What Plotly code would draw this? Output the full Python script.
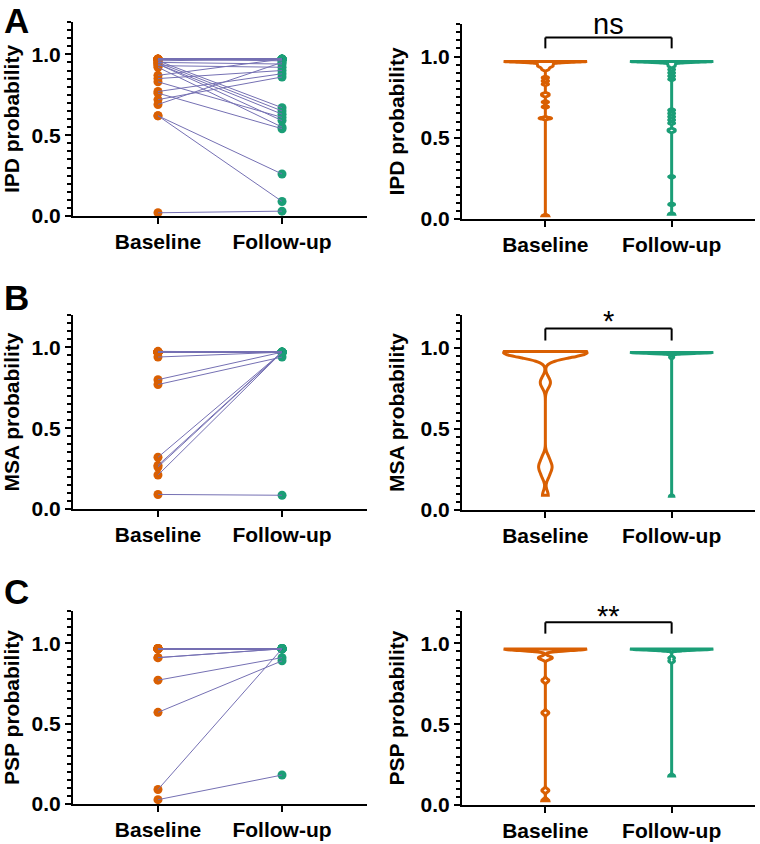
import plotly.graph_objects as go

# ---------------- data ----------------
categories = ["Baseline", "Follow-up"]

ipd_baseline = [0.97] * 12 + [0.97, 0.96, 0.96, 0.95, 0.95, 0.94, 0.94, 0.93, 0.92,
                              0.87, 0.85, 0.83, 0.77, 0.76, 0.72, 0.69, 0.62, 0.62, 0.02]
ipd_followup = [0.97] * 12 + [0.96, 0.97, 0.67, 0.65, 0.94, 0.63, 0.59, 0.92, 0.55,
                              0.97, 0.90, 0.61, 0.88, 0.54, 0.86, 0.95, 0.26, 0.09, 0.03]

msa_baseline = [0.97] * 13 + [0.975, 0.94, 0.80, 0.77, 0.32, 0.27, 0.26, 0.21, 0.09]
msa_followup = [0.97] * 13 + [0.97, 0.97, 0.97, 0.94, 0.97, 0.97, 0.97, 0.97, 0.085]

psp_baseline = [0.965] * 12 + [0.91, 0.91, 0.77, 0.57, 0.09, 0.027]
psp_followup = [0.965] * 12 + [0.965, 0.965, 0.91, 0.89, 0.965, 0.18]

panel_letters = ["A", "B", "C"]
y_titles = ["IPD probability", "MSA probability", "PSP probability"]
significance = ["ns", "*", "**"]
y_tickvals = [0.0, 0.5, 1.0]
y_ticktext = ["0.0", "0.5", "1.0"]

# ---------------- style ----------------
ORANGE = "#D95F02"
GREEN = "#1B9E77"
PURPLE = "#7570B3"
FONT = "Liberation Sans, Arial, Helvetica, sans-serif"
W, H = 760, 844
FS = 21

def ydom(y0px, ytop):
    return [(H - y0px) / H, (H - ytop) / H]

left_x = [73 / W, 367 / W]
right_x = [462 / W, 755 / W]
left_y = [ydom(216, 22), ydom(509, 315), ydom(804, 611)]
right_y = [ydom(219, 24), ydom(510, 315), ydom(805, 611)]
left_range = [-0.685, 1.685]
right_range = [-0.66, 1.66]
bandwidths = [(0.005, 0.005), (0.03, 0.006), (0.01, 0.007)]
letter_top_px = [-1, 276, 570]
sig_y = [(1.05, 1.117, 1.09), (1.043, 1.117, 1.05), (1.06, 1.13, 1.06)]

datasets = [(ipd_baseline, ipd_followup),
            (msa_baseline, msa_followup),
            (psp_baseline, psp_followup)]

fig = go.Figure()
layout = dict(width=W, height=H,
              margin=dict(l=0, r=0, t=0, b=0, pad=0, autoexpand=False),
              paper_bgcolor="white", plot_bgcolor="white",
              showlegend=False, font=dict(family=FONT, size=FS, color="black"))
shapes = []
annotations = []

def yaxis_def(title, dom, anchor):
    return dict(domain=dom, anchor=anchor, range=[0, 1.2], automargin=False,
                tickmode="array", tickvals=y_tickvals, ticktext=y_ticktext,
                ticks="outside", ticklen=6, tickwidth=2, tickcolor="black",
                showline=True, linewidth=2, linecolor="black",
                showgrid=False, zeroline=False,
                tickfont=dict(family=FONT, size=FS, weight="bold", color="black"),
                minor=dict(tickmode="linear", tick0=0, dtick=0.05, ticks="outside",
                           ticklen=4, tickwidth=1.5, tickcolor="black", showgrid=False),
                title=dict(text=title, standoff=10,
                           font=dict(family=FONT, size=FS, weight="bold", color="black")))

def xaxis_def(dom, anchor, rng):
    return dict(domain=dom, anchor=anchor, type="category", automargin=False,
                categoryorder="array", categoryarray=categories, range=rng,
                ticks="outside", ticklen=6, tickwidth=2, tickcolor="black",
                showline=True, linewidth=2, linecolor="black",
                showgrid=False, zeroline=False,
                tickfont=dict(family=FONT, size=FS, weight="bold", color="black"))

for i, (base, follow) in enumerate(datasets):
    li = 2 * i + 1
    ri = 2 * i + 2
    lx, ly = f"x{li}", f"y{li}"
    rx, ry = f"x{ri}", f"y{ri}"
    n = len(base)

    # paired lines
    xs, ys = [], []
    for b, f in zip(base, follow):
        xs += [categories[0], categories[1], None]
        ys += [b, f, None]
    fig.add_trace(go.Scatter(x=[categories[0]] * n, y=base, mode="markers",
                             marker=dict(color=ORANGE, size=9),
                             xaxis=lx, yaxis=ly, cliponaxis=False))
    fig.add_trace(go.Scatter(x=[categories[1]] * n, y=follow, mode="markers",
                             marker=dict(color=GREEN, size=9),
                             xaxis=lx, yaxis=ly, cliponaxis=False))
    fig.add_trace(go.Scatter(x=xs, y=ys, mode="lines",
                             line=dict(color=PURPLE, width=1),
                             xaxis=lx, yaxis=ly, connectgaps=False))

    # violins
    for vals, cat, col, bw in [(base, categories[0], ORANGE, bandwidths[i][0]),
                               (follow, categories[1], GREEN, bandwidths[i][1])]:
        fig.add_trace(go.Violin(x=[cat] * len(vals), y=vals,
                                line=dict(color=col, width=3), fillcolor="white",
                                spanmode="hard", bandwidth=bw, width=0.66,
                                scalemode="width", points=False,
                                box=dict(visible=False), meanline=dict(visible=False),
                                xaxis=rx, yaxis=ry))

    layout[f"xaxis{li}"] = xaxis_def(left_x, ly, left_range)
    layout[f"yaxis{li}"] = yaxis_def(y_titles[i], left_y[i], lx)
    layout[f"xaxis{ri}"] = xaxis_def(right_x, ry, right_range)
    layout[f"yaxis{ri}"] = yaxis_def(y_titles[i], right_y[i], rx)

    # significance bracket
    y_lo, y_hi, y_txt = sig_y[i]
    for (x0, y0, x1, y1) in [(0, y_lo, 0, y_hi), (0, y_hi, 1, y_hi), (1, y_hi, 1, y_lo)]:
        shapes.append(dict(type="line", xref=rx, yref=ry, x0=x0, y0=y0, x1=x1, y1=y1,
                           line=dict(color="black", width=2)))
    annotations.append(dict(xref=rx, yref=ry, x=0.5, y=y_txt, text=significance[i],
                            showarrow=False, xanchor="center", yanchor="bottom",
                            font=dict(family=FONT, size=29, color="black")))
    # panel letter
    annotations.append(dict(xref="paper", yref="paper", x=2 / W,
                            y=1 - letter_top_px[i] / H, text=panel_letters[i],
                            showarrow=False, xanchor="left", yanchor="top",
                            font=dict(family=FONT, size=35, weight="bold", color="black")))

layout["shapes"] = shapes
layout["annotations"] = annotations
fig.update_layout(**layout)

post = "document.documentElement.style.margin='0';document.body.style.margin='0';"
fig.write_html("out.html", config={"displayModeBar": False}, post_script=post)
